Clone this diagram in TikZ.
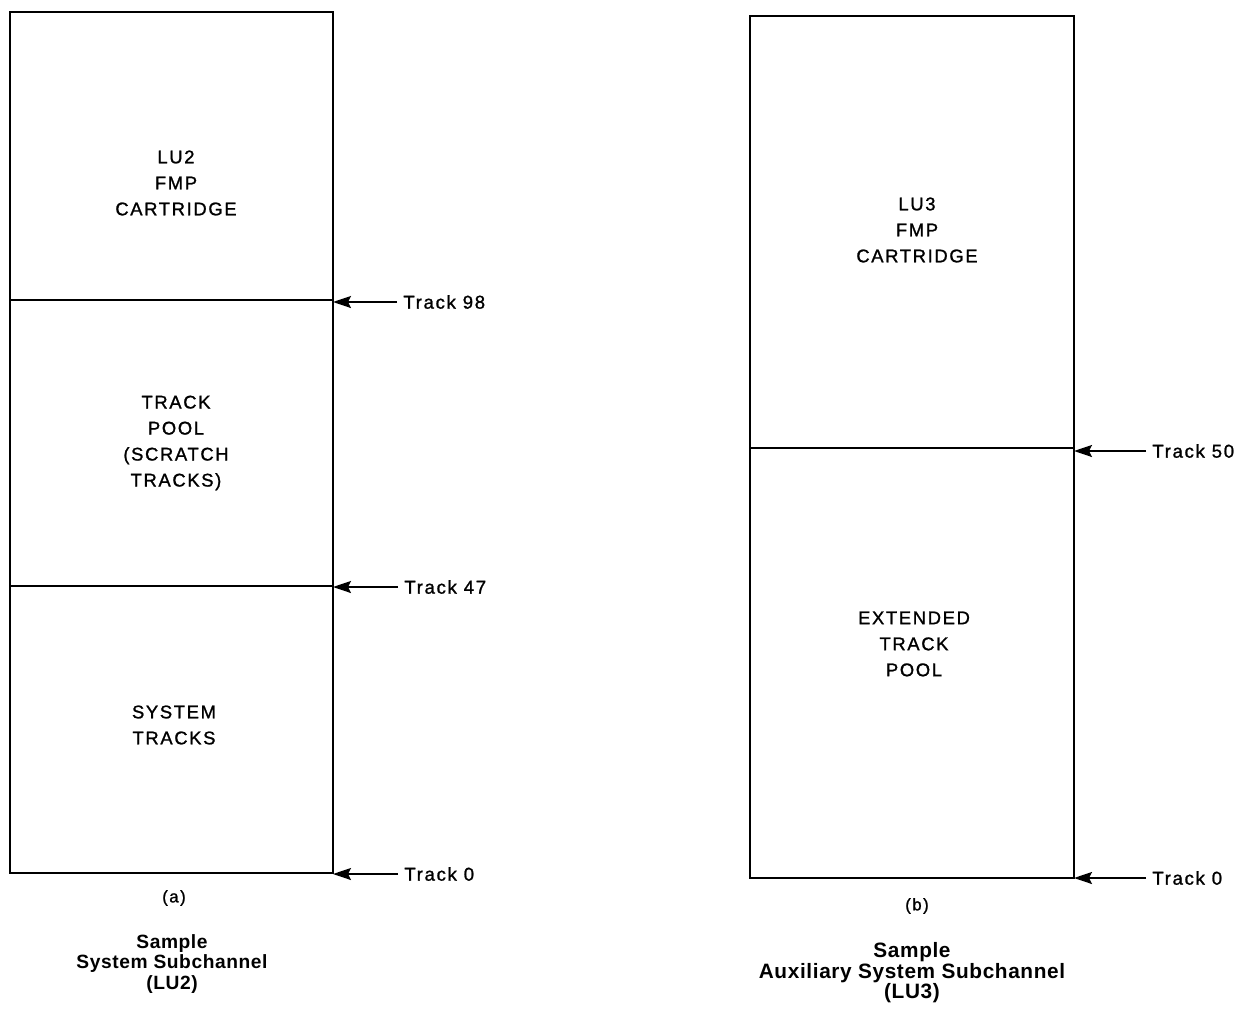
\documentclass[tikz,border=0pt]{standalone}
\usepackage{fontspec}
\setmainfont{Liberation Sans}
\newfontfamily\figfont[LetterSpace=9,FakeBold=1.2]{Liberation Sans}
\newfontfamily\capfont[LetterSpace=3,BoldFont={Liberation Sans Bold}]{Liberation Sans}
\usetikzlibrary{arrows.meta}
\begin{document}
\begin{tikzpicture}[x=0.5pt,y=-0.5pt,
  frame/.style={line width=1.4pt},
  divider/.style={line width=1.3pt},
  zone/.style={align=center,font=\figfont\fontsize{9.2}{13}\selectfont,inner sep=0pt},
  tracklbl/.style={anchor=west,font=\figfont\fontsize{9.3}{11}\selectfont,inner sep=0pt},
  pointer/.style={line width=1pt,-{Stealth[length=9pt,width=6pt,inset=1.5pt]}},
  sub/.style={font=\figfont\fontsize{8.4}{10}\selectfont,inner sep=0pt},
  caption/.style={align=center,font=\capfont\bfseries\fontsize{9.6}{10.3}\selectfont,inner sep=0pt}]
\useasboundingbox (0,0) rectangle (1237,1012);

% ---- (a) system subchannel LU2 ----
\coordinate (a-nw) at (10,12);
\coordinate (a-se) at (333,873);
\draw[frame] (a-nw) rectangle (a-se);
\coordinate (a-98w) at (10,300);
\coordinate (a-98e) at (333,300);
\coordinate (a-47w) at (10,586);
\coordinate (a-47e) at (333,586);
\coordinate (a-0e) at (333,873);
\draw[divider] (a-98w) -- (a-98e);
\draw[divider] (a-47w) -- (a-47e);

\node[zone] (a-fmp) at (176,183) {LU2\\FMP\\CARTRIDGE};
\node[zone] (a-pool) at (176,443) {TRACK\\POOL\\(SCRATCH\\TRACKS)};
\node[zone] (a-sys) at (174,725) {SYSTEM\\TRACKS};

\node[tracklbl] (a-t98) at (403,302) {Track 98};
\node[tracklbl] (a-t47) at (404,587) {Track 47};
\node[tracklbl] (a-t0) at (404,874) {Track 0};
\draw[pointer] ([xshift=-3pt]a-t98.west) -- (a-98e |- a-t98.west);
\draw[pointer] ([xshift=-3pt]a-t47.west) -- (a-47e |- a-t47.west);
\draw[pointer] ([xshift=-3pt]a-t0.west) -- (a-0e |- a-t0.west);

\node[sub] (a-tag) at (174,898) {(a)};
\node[caption] (a-cap) at (172,964) {Sample\\System Subchannel\\(LU2)};

% ---- (b) auxiliary system subchannel LU3 ----
\coordinate (b-nw) at (750,16);
\coordinate (b-se) at (1074,878);
\draw[frame] (b-nw) rectangle (b-se);
\coordinate (b-50w) at (750,448);
\coordinate (b-50e) at (1074,448);
\coordinate (b-0e) at (1074,878);
\draw[divider] (b-50w) -- (b-50e);

\node[zone] (b-fmp) at (917,230) {LU3\\FMP\\CARTRIDGE};
\node[zone] (b-pool) at (914,644) {EXTENDED\\TRACK\\POOL};

\node[tracklbl] (b-t50) at (1152,451) {Track 50};
\node[tracklbl] (b-t0) at (1152,878) {Track 0};
\draw[pointer] ([xshift=-3pt]b-t50.west) -- (b-50e |- b-t50.west);
\draw[pointer] ([xshift=-3pt]b-t0.west) -- (b-0e |- b-t0.west);

\node[sub] (b-tag) at (917,906) {(b)};
\node[caption,font=\capfont\bfseries\fontsize{10.4}{10.3}\selectfont] (b-cap) at (912,973) {Sample\\Auxiliary System Subchannel\\(LU3)};
\end{tikzpicture}
\end{document}
